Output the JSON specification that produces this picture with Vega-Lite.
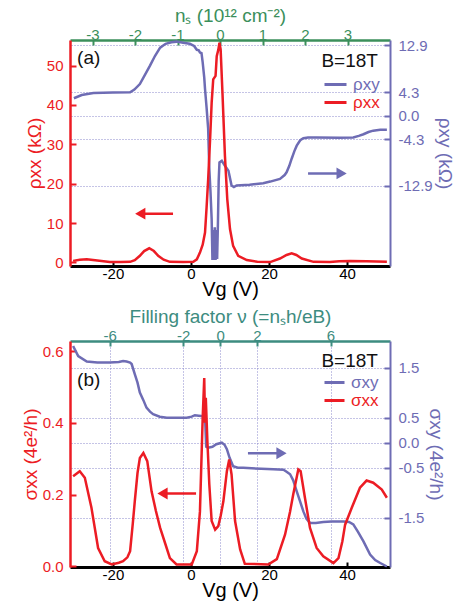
{
"$schema":"https://vega.github.io/schema/vega-lite/v6.json",
"background":"white",
"padding":{"left":21,"top":6,"right":5,"bottom":5},
"spacing":8,
"config":{"font":"Liberation Sans","view":{"stroke":null},"axis":{"titleFontWeight":"normal","labelFontSize":15,"titleFontSize":19,"grid":false,"labelFlush":false,"labelOverlap":false,"labelExpr":"replace(datum.label, '−', '-')"}},
"resolve":{"scale":{"color":"independent"}},
"vconcat":[
{"width":320,"height":226,
"resolve":{"scale":{"x":"independent","y":"independent"}},
"layer":[
{"data":{"values":[{"ns":0}]},"mark":{"type":"rule","opacity":0},
 "encoding":{"x":{"field":"ns","type":"quantitative","scale":{"domain":[-3.53,4.0],"nice":false,"zero":false},
  "axis":{"orient":"top","values":[-3,-2,-1,0,1,2,3],"title":"nₛ (10¹² cm⁻²)","titleColor":"#3b8f5b","labelColor":"#3b8f5b","domainColor":"#3b8f5b","domainWidth":2.5,"tickColor":"#3b8f5b","tickWidth":2,"tickSize":-5,"labelPadding":3,"titlePadding":2}}}},
{"data":{"values":[
{"Vg":-30,"v":3.2},{"Vg":-28,"v":3.8},{"Vg":-25,"v":4.15},{"Vg":-20,"v":4.25},{"Vg":-15.6,"v":4.3},{"Vg":-14.5,"v":4.8},{"Vg":-13.1,"v":5.8},{"Vg":-11.8,"v":7.5},{"Vg":-10.5,"v":9.2},{"Vg":-9.2,"v":11.0},{"Vg":-7.9,"v":12.5},{"Vg":-6.5,"v":13.2},{"Vg":-5,"v":13.5},{"Vg":-3.7,"v":13.6},{"Vg":-2,"v":13.4},{"Vg":-0.3,"v":13.2},{"Vg":0.8,"v":12.8},{"Vg":1.5,"v":12.1},{"Vg":2.0,"v":12.0},{"Vg":2.3,"v":11.6},{"Vg":2.7,"v":11.5},{"Vg":3.0,"v":9.8},{"Vg":3.4,"v":7.0},{"Vg":3.6,"v":4.9},{"Vg":4.0,"v":1.5},{"Vg":4.4,"v":-2.4},{"Vg":4.7,"v":-9.8},{"Vg":5.0,"v":-14},{"Vg":5.3,"v":-19},{"Vg":5.5,"v":-26.5},{"Vg":5.7,"v":-21},{"Vg":5.9,"v":-26.5},{"Vg":6.1,"v":-20.5},{"Vg":6.3,"v":-26.5},{"Vg":6.5,"v":-21},{"Vg":6.7,"v":-26.3},{"Vg":6.9,"v":-20},{"Vg":7.1,"v":-12},{"Vg":7.3,"v":-8.6},{"Vg":7.9,"v":-8.3},{"Vg":8.7,"v":-9.2},{"Vg":9.6,"v":-10.1},{"Vg":10.4,"v":-12.8},{"Vg":11.0,"v":-13.1},{"Vg":11.7,"v":-12.8},{"Vg":15,"v":-12.7},{"Vg":18.5,"v":-12.4},{"Vg":20.3,"v":-12.1},{"Vg":22.8,"v":-11.6},{"Vg":24.0,"v":-10.9},{"Vg":24.5,"v":-10.4},{"Vg":25.2,"v":-9.2},{"Vg":25.8,"v":-7.9},{"Vg":26.5,"v":-6.5},{"Vg":27.1,"v":-5.5},{"Vg":28.0,"v":-4.5},{"Vg":28.8,"v":-4.15},{"Vg":30,"v":-4.0},{"Vg":32.2,"v":-4.0},{"Vg":38,"v":-4.05},{"Vg":41.6,"v":-4.0},{"Vg":43,"v":-3.7},{"Vg":44.2,"v":-3.4},{"Vg":45.5,"v":-3.0},{"Vg":46.7,"v":-2.75},{"Vg":48.5,"v":-2.6},{"Vg":50.2,"v":-2.6}
]},
 "transform":[{"calculate":"'ρxy'","as":"s"}],
 "mark":{"type":"line","strokeWidth":2.5},
 "encoding":{"x":{"field":"Vg","type":"quantitative","scale":{"domain":[-31,51],"nice":false,"zero":false},"axis":null},
  "y":{"field":"v","type":"quantitative","scale":{"domain":[-27.6,13.9],"nice":false,"zero":false},
   "axis":{"orient":"right","values":[12.9,4.3,0,-4.3,-12.9],"format":".1f","title":"ρxy (kΩ)","titleColor":"#6e6cb4","labelColor":"#6e6cb4","domainColor":"#6e6cb4","domainWidth":2,"tickColor":"#6e6cb4","tickWidth":2,"tickSize":-6,"labelPadding":14,"titlePadding":2,"grid":true,"gridColor":"#8a88cc","gridDash":[1,2],"gridWidth":1}},
  "color":{"field":"s","type":"nominal","scale":{"domain":["ρxy","ρxx"],"range":["#6e6cb4","#ec1c24"]},
   "legend":{"title":null,"orient":"none","legendX":253,"legendY":36,"padding":0,"labelFontSize":17,"symbolType":"stroke","symbolStrokeWidth":3,"symbolSize":484,"rowPadding":0,"clipHeight":17,"labelOffset":5,"encode":{"labels":{"update":{"fill":{"signal":"datum.value === 'ρxx' ? '#ec1c24' : '#6e6cb4'"}}}}}}}},
{"data":{"values":[
{"Vg":-30.2,"v":0.4},{"Vg":-28.5,"v":0.7},{"Vg":-26.7,"v":0.8},{"Vg":-24,"v":0.5},{"Vg":-20.8,"v":0.1},{"Vg":-18,"v":0.1},{"Vg":-15.6,"v":0.15},{"Vg":-14.4,"v":0.6},{"Vg":-13.1,"v":1.7},{"Vg":-12,"v":2.9},{"Vg":-10.7,"v":3.6},{"Vg":-9.5,"v":2.9},{"Vg":-8.4,"v":1.7},{"Vg":-7,"v":0.7},{"Vg":-5.4,"v":0.15},{"Vg":-2,"v":0.1},{"Vg":0.6,"v":0.2},{"Vg":1.5,"v":0.8},{"Vg":2.3,"v":2.5},{"Vg":3.0,"v":4.5},{"Vg":3.6,"v":7.6},{"Vg":4.0,"v":14},{"Vg":4.4,"v":21},{"Vg":4.9,"v":31.3},{"Vg":5.3,"v":40.6},{"Vg":5.7,"v":46.5},{"Vg":6.3,"v":47.4},{"Vg":6.6,"v":52.4},{"Vg":7.0,"v":54},{"Vg":7.3,"v":55.8},{"Vg":7.6,"v":54.1},{"Vg":8.1,"v":42.3},{"Vg":8.7,"v":27.1},{"Vg":9.3,"v":16.1},{"Vg":10.0,"v":8.5},{"Vg":10.8,"v":4.2},{"Vg":12.1,"v":1.7},{"Vg":14.3,"v":0.6},{"Vg":17,"v":0.2},{"Vg":20.3,"v":0.1},{"Vg":22.8,"v":1.0},{"Vg":24.5,"v":1.9},{"Vg":25.8,"v":2.3},{"Vg":27,"v":1.9},{"Vg":28.4,"v":1.0},{"Vg":31.4,"v":0.15},{"Vg":35.6,"v":0.1},{"Vg":38,"v":0.3},{"Vg":40.8,"v":0.4},{"Vg":45,"v":0.3},{"Vg":50.2,"v":0.2}
]},
 "transform":[{"calculate":"'ρxx'","as":"s"}],
 "mark":{"type":"line","strokeWidth":2.5},
 "encoding":{"x":{"field":"Vg","type":"quantitative","scale":{"domain":[-31,51],"nice":false,"zero":false},
   "axis":{"orient":"bottom","values":[-20,0,20,40],"title":"Vg (V)","titleFontSize":20,"titleColor":"#000","labelColor":"#000","domainColor":"#000","domainWidth":3,"tickColor":"#000","tickWidth":2,"tickSize":-5,"labelPadding":5,"titlePadding":-2}},
  "y":{"field":"v","type":"quantitative","scale":{"domain":[-0.9,56.5],"nice":false,"zero":false},
   "axis":{"orient":"left","values":[0,10,20,30,40,50],"title":"ρxx (kΩ)","titleColor":"#ec1c24","labelColor":"#ec1c24","domainColor":"#ec1c24","domainWidth":2.5,"tickColor":"#ec1c24","tickWidth":2,"tickSize":-6,"labelPadding":13,"titlePadding":2}},
  "color":{"field":"s","type":"nominal","scale":{"domain":["ρxy","ρxx"],"range":["#6e6cb4","#ec1c24"]}}}},
{"data":{"values":[{"a":-12.9,"b":-4.6,"v":12.4}]},"mark":{"type":"rule","color":"#ec1c24","strokeWidth":2.5},
 "encoding":{"x":{"field":"a","type":"quantitative","scale":{"domain":[-31,51],"nice":false,"zero":false},"axis":null},"x2":{"field":"b"},
  "y":{"field":"v","type":"quantitative","scale":{"domain":[-0.9,56.5],"nice":false,"zero":false},"axis":null}}},
{"data":{"values":[{"a":-13.0,"v":12.4}]},"mark":{"type":"point","shape":"triangle-left","filled":true,"color":"#ec1c24","size":140,"opacity":1},
 "encoding":{"x":{"field":"a","type":"quantitative","scale":{"domain":[-31,51],"nice":false,"zero":false},"axis":null},
  "y":{"field":"v","type":"quantitative","scale":{"domain":[-0.9,56.5],"nice":false,"zero":false},"axis":null}}},
{"data":{"values":[{"a":30,"b":38.5,"v":-10.6}]},"mark":{"type":"rule","color":"#6e6cb4","strokeWidth":2.5},
 "encoding":{"x":{"field":"a","type":"quantitative","scale":{"domain":[-31,51],"nice":false,"zero":false},"axis":null},"x2":{"field":"b"},
  "y":{"field":"v","type":"quantitative","scale":{"domain":[-27.6,13.9],"nice":false,"zero":false},"axis":null}}},
{"data":{"values":[{"a":38.6,"v":-10.6}]},"mark":{"type":"point","shape":"triangle-right","filled":true,"color":"#6e6cb4","size":140,"opacity":1},
 "encoding":{"x":{"field":"a","type":"quantitative","scale":{"domain":[-31,51],"nice":false,"zero":false},"axis":null},
  "y":{"field":"v","type":"quantitative","scale":{"domain":[-27.6,13.9],"nice":false,"zero":false},"axis":null}}},
{"data":{"values":[{"a":-26.2,"v":51.9,"t":"(a)"}]},
 "mark":{"type":"text","fontSize":19,"color":"#111","baseline":"middle","align":"center"},
 "encoding":{"x":{"field":"a","type":"quantitative","scale":{"domain":[-31,51],"nice":false,"zero":false},"axis":null},
  "y":{"field":"v","type":"quantitative","scale":{"domain":[-0.9,56.5],"nice":false,"zero":false},"axis":null},
  "text":{"field":"t"}}},
{"data":{"values":[{"a":47.9,"v":51.1,"t":"B=18T"}]},
 "mark":{"type":"text","fontSize":19,"color":"#111","baseline":"middle","align":"right"},
 "encoding":{"x":{"field":"a","type":"quantitative","scale":{"domain":[-31,51],"nice":false,"zero":false},"axis":null},
  "y":{"field":"v","type":"quantitative","scale":{"domain":[-0.9,56.5],"nice":false,"zero":false},"axis":null},
  "text":{"field":"t"}}}
]},
{"width":320,"height":226,
"resolve":{"scale":{"x":"independent","y":"independent"}},
"layer":[
{"data":{"values":[{"nu":0}]},"mark":{"type":"rule","opacity":0},
 "encoding":{"x":{"field":"nu","type":"quantitative","scale":{"domain":[-8.15,9.23],"nice":false,"zero":false},
  "axis":{"orient":"top","values":[-6,-2,0,2,6],"title":"Filling factor ν (=nₛh/eB)","titleColor":"#3d8c80","labelColor":"#3d8c80","domainColor":"#3d8c80","domainWidth":2.5,"tickColor":"#3d8c80","tickWidth":2,"tickSize":-5,"labelPadding":3,"titlePadding":2,"grid":true,"gridColor":"#8a88cc","gridDash":[1,2],"gridWidth":1}}}},
{"data":{"values":[
{"Vg":-30.2,"v":1.93},{"Vg":-28.9,"v":1.73},{"Vg":-26.7,"v":1.62},{"Vg":-24,"v":1.6},{"Vg":-20.8,"v":1.6},{"Vg":-18.5,"v":1.61},{"Vg":-17.4,"v":1.63},{"Vg":-16.5,"v":1.62},{"Vg":-15.6,"v":1.6},{"Vg":-15.2,"v":1.57},{"Vg":-14.4,"v":1.37},{"Vg":-13.7,"v":1.2},{"Vg":-13.1,"v":1.0},{"Vg":-12.2,"v":0.85},{"Vg":-11.4,"v":0.7},{"Vg":-10.5,"v":0.62},{"Vg":-9.7,"v":0.57},{"Vg":-8,"v":0.52},{"Vg":-6.2,"v":0.5},{"Vg":-3,"v":0.5},{"Vg":-1.1,"v":0.5},{"Vg":0.2,"v":0.52},{"Vg":1.0,"v":0.55},{"Vg":2.0,"v":0.54},{"Vg":3.2,"v":0.53},{"Vg":3.6,"v":0.53},{"Vg":3.9,"v":-0.08},{"Vg":4.4,"v":-0.1},{"Vg":5.5,"v":-0.08},{"Vg":6.5,"v":-0.03},{"Vg":7.9,"v":0.0},{"Vg":8.6,"v":-0.04},{"Vg":9.2,"v":-0.13},{"Vg":9.9,"v":-0.3},{"Vg":10.8,"v":-0.47},{"Vg":12,"v":-0.5},{"Vg":13.4,"v":-0.5},{"Vg":18,"v":-0.52},{"Vg":21.1,"v":-0.53},{"Vg":23.7,"v":-0.54},{"Vg":24.5,"v":-0.58},{"Vg":25.4,"v":-0.63},{"Vg":26.2,"v":-0.75},{"Vg":27.1,"v":-0.97},{"Vg":28,"v":-1.18},{"Vg":28.8,"v":-1.37},{"Vg":29.6,"v":-1.52},{"Vg":30.5,"v":-1.6},{"Vg":32,"v":-1.6},{"Vg":33.9,"v":-1.58},{"Vg":36,"v":-1.57},{"Vg":39.1,"v":-1.57},{"Vg":40.5,"v":-1.58},{"Vg":41.6,"v":-1.63},{"Vg":42.8,"v":-1.78},{"Vg":44.2,"v":-1.97},{"Vg":45.9,"v":-2.23},{"Vg":47.2,"v":-2.34},{"Vg":48.5,"v":-2.4},{"Vg":50.2,"v":-2.47}
]},
 "transform":[{"calculate":"'σxy'","as":"s"}],
 "mark":{"type":"line","strokeWidth":2.5},
 "encoding":{"x":{"field":"Vg","type":"quantitative","scale":{"domain":[-31,51],"nice":false,"zero":false},"axis":null},
  "y":{"field":"v","type":"quantitative","scale":{"domain":[-2.48,2.03],"nice":false,"zero":false},
   "axis":{"orient":"right","values":[1.5,0.5,0,-0.5,-1.5],"format":".1f","title":"σxy (4e²/h)","titleColor":"#6e6cb4","labelColor":"#6e6cb4","domainColor":"#6e6cb4","domainWidth":2,"tickColor":"#6e6cb4","tickWidth":2,"tickSize":-6,"labelPadding":14,"titlePadding":2,"grid":true,"gridColor":"#8a88cc","gridDash":[1,2],"gridWidth":1}},
  "color":{"field":"s","type":"nominal","scale":{"domain":["σxy","σxx"],"range":["#6e6cb4","#ec1c24"]},
   "legend":{"title":null,"orient":"none","legendX":253,"legendY":33,"padding":0,"labelFontSize":17,"symbolType":"stroke","symbolStrokeWidth":3,"symbolSize":400,"rowPadding":0,"clipHeight":17,"labelOffset":5,"encode":{"labels":{"update":{"fill":{"signal":"datum.value === 'σxx' ? '#ec1c24' : '#6e6cb4'"}}}}}}}},
{"data":{"values":[
{"Vg":-30.2,"v":0.251},{"Vg":-28.5,"v":0.265},{"Vg":-27.2,"v":0.247},{"Vg":-25.5,"v":0.163},{"Vg":-23.8,"v":0.051},{"Vg":-22.1,"v":0.014},{"Vg":-20.3,"v":0.005},{"Vg":-18.5,"v":0.01},{"Vg":-17.4,"v":0.014},{"Vg":-16.3,"v":0.025},{"Vg":-15.6,"v":0.042},{"Vg":-14.9,"v":0.12},{"Vg":-14.4,"v":0.181},{"Vg":-13.7,"v":0.26},{"Vg":-13.1,"v":0.302},{"Vg":-12.2,"v":0.316},{"Vg":-11.2,"v":0.293},{"Vg":-10.1,"v":0.209},{"Vg":-9,"v":0.155},{"Vg":-7.9,"v":0.107},{"Vg":-6.5,"v":0.06},{"Vg":-5.4,"v":0.023},{"Vg":-3.7,"v":0.005},{"Vg":0.2,"v":0.005},{"Vg":1.5,"v":0.042},{"Vg":2.3,"v":0.153},{"Vg":3.0,"v":0.414},{"Vg":3.4,"v":0.525},{"Vg":3.6,"v":0.4},{"Vg":3.8,"v":0.47},{"Vg":4.2,"v":0.35},{"Vg":4.7,"v":0.228},{"Vg":5.3,"v":0.126},{"Vg":6.2,"v":0.102},{"Vg":7.0,"v":0.112},{"Vg":7.6,"v":0.14},{"Vg":8.3,"v":0.181},{"Vg":9.2,"v":0.265},{"Vg":9.8,"v":0.298},{"Vg":10.4,"v":0.256},{"Vg":11.3,"v":0.126},{"Vg":12.6,"v":0.047},{"Vg":13.8,"v":0.007},{"Vg":19.8,"v":0.005},{"Vg":22.0,"v":0.02},{"Vg":24.1,"v":0.088},{"Vg":25.4,"v":0.153},{"Vg":26.2,"v":0.2},{"Vg":27.5,"v":0.27},{"Vg":28.1,"v":0.265},{"Vg":29.2,"v":0.191},{"Vg":30.5,"v":0.107},{"Vg":32.2,"v":0.051},{"Vg":33.9,"v":0.028},{"Vg":36.5,"v":0.009},{"Vg":37.8,"v":0.023},{"Vg":38.8,"v":0.07},{"Vg":39.5,"v":0.116},{"Vg":41.2,"v":0.163},{"Vg":43.3,"v":0.219},{"Vg":45.0,"v":0.239},{"Vg":46.7,"v":0.233},{"Vg":48.9,"v":0.214},{"Vg":50.2,"v":0.191}
]},
 "transform":[{"calculate":"'σxx'","as":"s"}],
 "mark":{"type":"line","strokeWidth":2.5},
 "encoding":{"x":{"field":"Vg","type":"quantitative","scale":{"domain":[-31,51],"nice":false,"zero":false},
   "axis":{"orient":"bottom","values":[-20,0,20,40],"title":"Vg (V)","titleFontSize":20,"titleColor":"#000","labelColor":"#000","domainColor":"#000","domainWidth":3,"tickColor":"#000","tickWidth":2,"tickSize":-5,"labelPadding":5,"titlePadding":-2}},
  "y":{"field":"v","type":"quantitative","scale":{"domain":[-0.002,0.628],"nice":false,"zero":false},
   "axis":{"orient":"left","values":[0,0.2,0.4,0.6],"format":".1f","title":"σxx (4e²/h)","titleColor":"#ec1c24","labelColor":"#ec1c24","domainColor":"#ec1c24","domainWidth":2.5,"tickColor":"#ec1c24","tickWidth":2,"tickSize":-6,"labelPadding":13,"titlePadding":2}},
  "color":{"field":"s","type":"nominal","scale":{"domain":["σxy","σxx"],"range":["#6e6cb4","#ec1c24"]}}}},
{"data":{"values":[{"a":-7.2,"b":1.3,"v":0.203}]},"mark":{"type":"rule","color":"#ec1c24","strokeWidth":2.5},
 "encoding":{"x":{"field":"a","type":"quantitative","scale":{"domain":[-31,51],"nice":false,"zero":false},"axis":null},"x2":{"field":"b"},
  "y":{"field":"v","type":"quantitative","scale":{"domain":[-0.002,0.628],"nice":false,"zero":false},"axis":null}}},
{"data":{"values":[{"a":-7.3,"v":0.203}]},"mark":{"type":"point","shape":"triangle-left","filled":true,"color":"#ec1c24","size":140,"opacity":1},
 "encoding":{"x":{"field":"a","type":"quantitative","scale":{"domain":[-31,51],"nice":false,"zero":false},"axis":null},
  "y":{"field":"v","type":"quantitative","scale":{"domain":[-0.002,0.628],"nice":false,"zero":false},"axis":null}}},
{"data":{"values":[{"a":14.6,"b":23.1,"v":-0.21}]},"mark":{"type":"rule","color":"#6e6cb4","strokeWidth":2.5},
 "encoding":{"x":{"field":"a","type":"quantitative","scale":{"domain":[-31,51],"nice":false,"zero":false},"axis":null},"x2":{"field":"b"},
  "y":{"field":"v","type":"quantitative","scale":{"domain":[-2.48,2.03],"nice":false,"zero":false},"axis":null}}},
{"data":{"values":[{"a":23.2,"v":-0.21}]},"mark":{"type":"point","shape":"triangle-right","filled":true,"color":"#6e6cb4","size":140,"opacity":1},
 "encoding":{"x":{"field":"a","type":"quantitative","scale":{"domain":[-31,51],"nice":false,"zero":false},"axis":null},
  "y":{"field":"v","type":"quantitative","scale":{"domain":[-2.48,2.03],"nice":false,"zero":false},"axis":null}}},
{"data":{"values":[{"a":-26.2,"v":0.518,"t":"(b)"}]},
 "mark":{"type":"text","fontSize":19,"color":"#111","baseline":"middle","align":"center"},
 "encoding":{"x":{"field":"a","type":"quantitative","scale":{"domain":[-31,51],"nice":false,"zero":false},"axis":null},
  "y":{"field":"v","type":"quantitative","scale":{"domain":[-0.002,0.628],"nice":false,"zero":false},"axis":null},
  "text":{"field":"t"}}},
{"data":{"values":[{"a":47.9,"v":0.572,"t":"B=18T"}]},
 "mark":{"type":"text","fontSize":19,"color":"#111","baseline":"middle","align":"right"},
 "encoding":{"x":{"field":"a","type":"quantitative","scale":{"domain":[-31,51],"nice":false,"zero":false},"axis":null},
  "y":{"field":"v","type":"quantitative","scale":{"domain":[-0.002,0.628],"nice":false,"zero":false},"axis":null},
  "text":{"field":"t"}}}
]}
]}
